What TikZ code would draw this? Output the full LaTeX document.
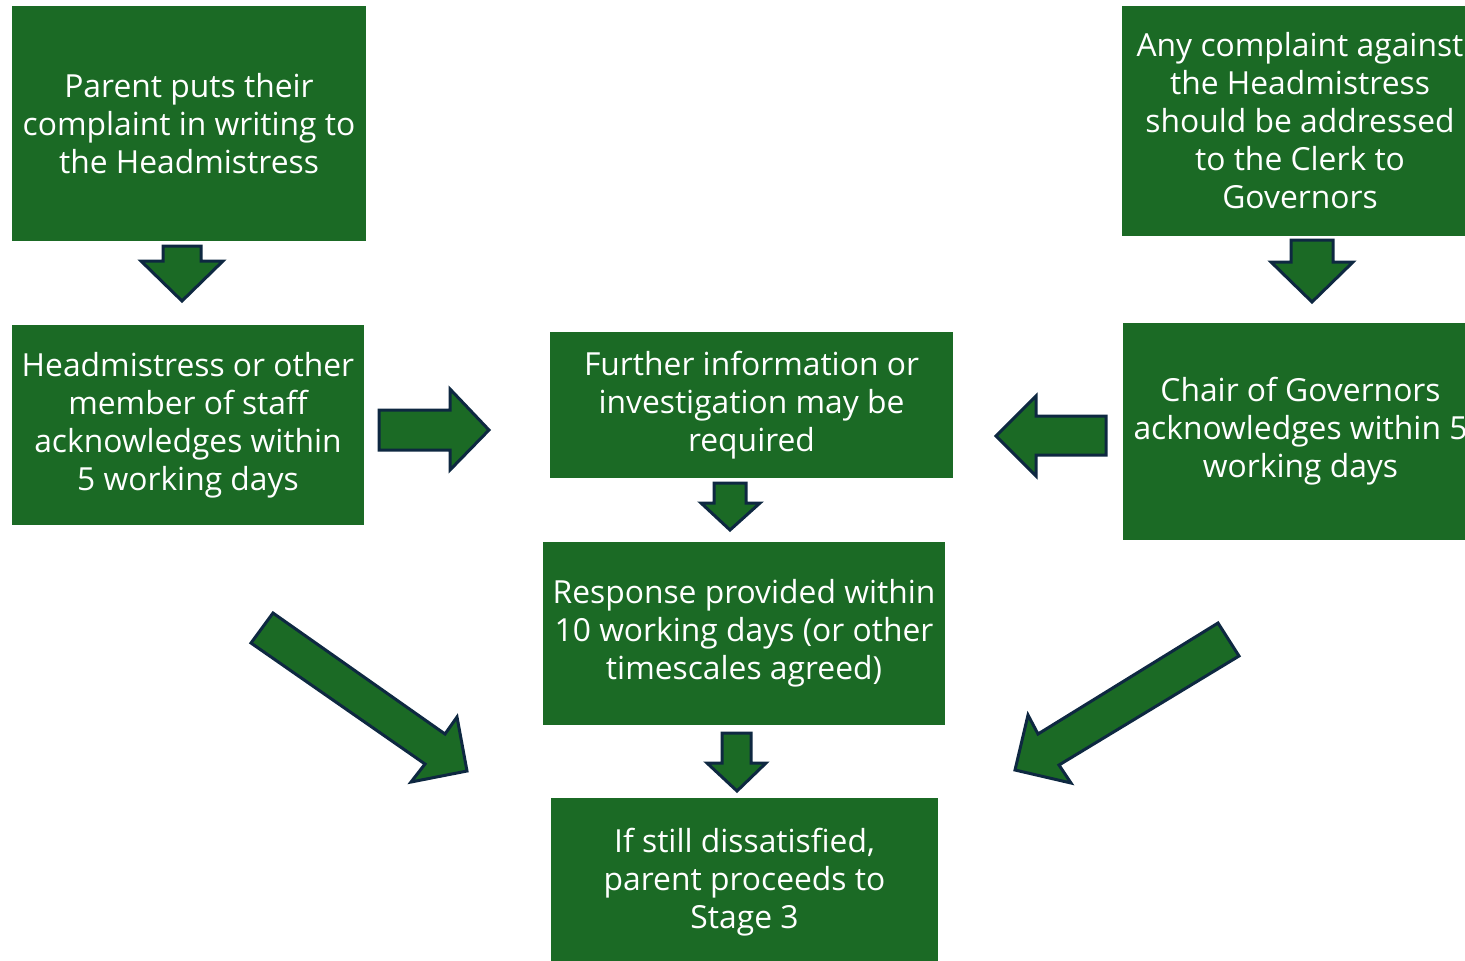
\documentclass[tikz,border=0pt]{standalone}
\usepackage{fontspec}
\setmainfont{Open Sans}
\definecolor{boxgreen}{RGB}{27,106,37}
\definecolor{arrowline}{RGB}{14,40,65}
\tikzset{
	stagebox/.style={fill=boxgreen, text=white, align=center, inner sep=0pt,
		font=\fontsize{15.9}{19}\selectfont},
	blockarrow/.style={fill=boxgreen, draw=arrowline, line width=1.5pt, line join=miter}
}
\begin{document}
\begin{tikzpicture}[x=0.5pt,y=-0.5pt]
			\useasboundingbox (0,0) rectangle (1465,960);
			\clip (0,0) rectangle (1465,960);
			% boxes
			\node[stagebox, minimum width=177pt, minimum height=117.5pt] (parent) at (189,123.5) {Parent puts their\\complaint in writing to\\the Headmistress};
			\node[stagebox, minimum width=178pt, minimum height=115pt] (clerk) at (1300,121) {Any complaint against\\the Headmistress\\should be addressed\\to the Clerk to\\Governors};
			\node[stagebox, minimum width=176pt, minimum height=100pt] (ack) at (188,425) {Headmistress or other\\member of staff\\acknowledges within\\5 working days};
			\node[stagebox, minimum width=201.5pt, minimum height=73pt] (further) at (751.5,405) {Further information or\\investigation may be\\required};
			\node[stagebox, minimum width=178pt, minimum height=108.5pt] (chair) at (1300.5,431.5) {Chair of Governors\\acknowledges within 5\\working days};
			\node[stagebox, minimum width=201pt, minimum height=91.5pt] (response) at (744,633.5) {Response provided within\\10 working days (or other\\timescales agreed)};
			\node[stagebox, minimum width=193.5pt, minimum height=84pt] (stillno) at (744.5,882) {If still dissatisfied,\\parent proceeds to\\Stage 3};
			% block arrows
			\draw[blockarrow] (163,246)--(201,246)--(201,261)--(223,261)--(182,301)--(141,261)--(163,261)--cycle;
			\draw[blockarrow] (1291,240)--(1333,240)--(1333,262)--(1353,262)--(1312,302)--(1271,262)--(1291,262)--cycle;
			\draw[blockarrow] (379,410)--(450,410)--(450,389)--(489,430)--(450,470)--(450,450)--(379,450)--cycle;
			\draw[blockarrow] (1106,416)--(1036,416)--(1036,396)--(996,436)--(1036,476)--(1036,455)--(1106,455)--cycle;
			\draw[blockarrow] (714,483)--(746,483)--(746,503)--(760,503)--(730,530)--(701,503)--(714,503)--cycle;
			\draw[blockarrow] (722,733)--(751,733)--(751,763)--(766,763)--(737,791)--(707,763)--(722,763)--cycle;
			\draw[blockarrow] (273,613)--(445,734)--(457,717)--(467,771)--(411,782)--(425,764)--(251,643)--cycle;
			\draw[blockarrow] (1218,623)--(1239,656)--(1059,765)--(1071,783)--(1015,770)--(1028,715)--(1038,734)--cycle;
	\end{tikzpicture}
\end{document}
